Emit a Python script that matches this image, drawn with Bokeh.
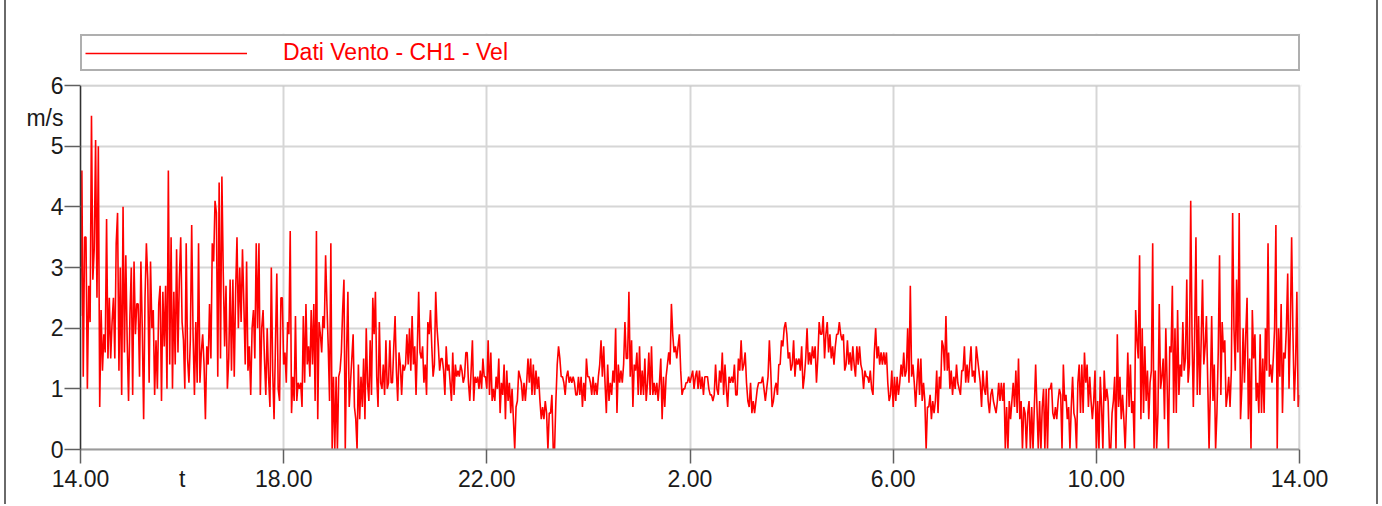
import numpy as np
from bokeh.plotting import figure
from bokeh.models import Range1d, FixedTicker, Legend, LegendItem, BoxAnnotation
from bokeh.embed import file_html
from bokeh.resources import INLINE

# Wind speed (m/s), grouped by 4-hour block starting at 14.00
v_14_18 = [2.2, 4.6, 1.2, 3.5, 3.5, 1.0, 2.7, 2.1, 5.5, 2.8, 3.3, 5.1, 2.5, 5.0, 0.7, 2.3, 1.3, 1.9, 1.6, 3.8,
           1.5, 2.5, 1.5, 2.1, 2.5, 1.5, 3.4, 3.9, 1.3, 3.0, 0.9, 4.0, 1.6, 3.2, 1.8, 0.8, 2.2, 3.0, 0.9, 3.1,
           1.9, 2.4, 2.4, 1.2, 3.1, 2.0, 0.5, 2.5, 3.4, 2.8, 1.1, 3.1, 2.0, 2.3, 0.9, 1.8, 1.0, 2.4, 2.7, 0.8,
           2.6, 1.7, 2.7, 1.0, 4.6, 1.4, 3.5, 1.0, 2.6, 1.4, 3.3, 1.6, 2.8, 3.5, 2.1, 1.8, 1.0, 3.4, 1.5, 1.1,
           1.8, 3.7, 1.9, 0.9, 2.1, 1.1, 3.4, 1.1, 1.6, 1.9, 1.4, 0.5, 1.7, 1.4, 2.4, 1.5, 3.4, 3.1, 4.1, 3.9,
           1.2, 4.4, 1.5, 4.5, 2.9, 1.7, 2.7, 1.0, 1.5, 2.8, 1.3, 2.8, 1.2, 2.6, 3.5, 2.0, 3.0, 2.1, 3.3, 2.4,
           1.4, 3.1, 1.3, 1.7, 0.9, 2.0, 2.3, 1.5, 3.4, 2.0, 3.4, 0.9, 2.0, 2.3, 1.5, 0.9, 2.0, 1.2, 0.7, 3.0,
           1.3, 0.5, 1.7, 2.9, 1.0, 0.8, 2.5, 2.5]
v_18_22 = [1.4, 1.6, 1.1, 2.1, 1.9, 3.6, 0.6, 1.2, 0.8, 2.2, 0.8, 1.1, 1.0, 1.1, 0.7, 2.2, 1.1, 2.4, 1.4, 1.7,
           1.2, 2.3, 1.4, 2.4, 0.8, 3.6, 0.5, 2.1, 1.9, 1.6, 2.2, 2.0, 3.2, 2.4, 1.7, 0.8, 3.4, 0.0, 1.2, 0.0,
           1.2, 0.0, 1.2, 1.3, 1.6, 2.3, 2.8, 0.0, 1.6, 2.6, 0.7, 1.1, 1.5, 1.9, 0.7, 0.5, 0.0, 1.4, 0.5, 1.2,
           0.7, 1.5, 0.5, 2.0, 1.1, 0.8, 1.8, 0.9, 2.5, 1.9, 2.6, 1.2, 0.7, 2.1, 1.1, 1.0, 1.4, 0.9, 1.8, 1.0,
           1.1, 1.8, 1.1, 1.1, 1.7, 2.2, 1.3, 0.8, 1.6, 1.4, 0.9, 1.4, 1.3, 1.4, 1.9, 1.4, 2.0, 1.3, 2.2, 1.4,
           1.7, 0.9, 1.7, 2.6, 1.6, 1.5, 1.7, 1.1, 1.4, 0.9, 2.1, 1.9, 2.3, 1.7, 1.2, 1.4, 2.6, 2.0, 1.7, 1.3,
           1.5, 1.5, 1.3, 0.9, 1.7, 1.3, 1.4, 1.1, 0.8, 1.6, 0.9, 1.4, 1.2, 1.3, 1.2, 1.4, 1.3, 1.1, 1.2, 1.6,
           1.6, 1.1, 0.8, 1.3, 1.8, 0.8, 1.2, 1.1, 1.2, 1.0, 1.3, 1.0, 1.5, 1.2, 1.2]
v_22_02 = [1.0, 1.8, 0.9, 1.6, 0.8, 1.0, 0.8, 1.2, 1.0, 1.5, 0.6, 1.1, 0.9, 1.4, 0.5, 1.3, 0.8, 1.1, 0.6, 1.0,
           0.5, 0.0, 0.7, 0.8, 1.3, 1.2, 1.1, 0.8, 1.1, 0.8, 1.1, 1.5, 1.1, 1.5, 0.9, 1.4, 0.9, 1.3, 1.0, 1.2,
           0.8, 0.5, 0.7, 0.5, 0.8, 0.6, 0.0, 0.6, 0.6, 0.9, 0.0, 0.0, 0.8, 1.4, 1.7, 1.5, 1.2, 1.2, 1.1, 0.9,
           1.2, 1.3, 1.1, 1.2, 1.1, 1.2, 1.1, 0.9, 0.9, 1.2, 0.9, 1.2, 0.7, 1.1, 0.8, 1.5, 1.2, 1.2, 1.1, 0.9,
           1.2, 0.9, 1.1, 0.9, 1.2, 1.4, 1.8, 1.2, 1.7, 1.1, 0.6, 1.4, 0.8, 1.1, 0.9, 1.3, 1.1, 2.0, 0.6, 1.4,
           1.1, 1.3, 1.1, 1.4, 2.1, 1.5, 1.5, 2.6, 1.2, 1.8, 0.7, 1.4, 1.3, 1.6, 0.9, 1.7, 0.9, 1.3, 0.9, 1.5,
           0.8, 1.1, 1.6, 0.9, 1.7, 0.9, 1.1, 0.9, 1.1, 0.8, 1.1, 1.5, 0.5, 1.2, 0.7, 1.2, 1.4, 1.6, 1.4, 2.4,
           1.9, 1.6, 1.7, 1.5, 1.7, 1.9, 1.3, 0.9, 1.0, 1.0, 1.1, 1.1, 1.2]
v_02_06 = [1.1, 1.2, 1.3, 1.0, 1.2, 1.3, 1.0, 1.3, 1.0, 1.2, 0.9, 1.2, 1.2, 1.2, 1.0, 0.9, 0.9, 0.8, 0.9, 1.4,
           1.0, 0.9, 1.3, 1.1, 1.6, 0.9, 1.4, 1.0, 0.7, 1.2, 1.1, 1.2, 1.1, 1.4, 0.9, 0.9, 1.5, 1.3, 1.8, 1.3,
           1.4, 1.6, 1.1, 0.8, 0.7, 1.1, 0.6, 0.8, 0.6, 0.8, 1.0, 1.1, 1.1, 1.1, 1.2, 1.0, 0.8, 1.0, 1.2, 1.8,
           1.3, 0.7, 0.8, 1.0, 1.1, 0.9, 1.4, 1.4, 1.8, 1.7, 2.0, 2.1, 1.9, 1.5, 1.6, 1.3, 1.4, 1.8, 1.2, 1.5,
           1.4, 1.5, 1.3, 1.7, 1.0, 1.2, 1.5, 2.0, 1.4, 1.6, 1.4, 1.7, 1.5, 1.7, 1.1, 1.5, 2.1, 1.9, 1.9, 2.2,
           1.5, 1.9, 2.1, 1.6, 1.9, 1.5, 1.7, 1.4, 1.7, 1.9, 1.9, 2.1, 1.9, 1.8, 1.9, 1.3, 1.4, 1.8, 1.4, 1.6,
           1.3, 1.7, 1.4, 1.2, 1.7, 1.4, 1.7, 1.4, 1.3, 1.0, 1.3, 1.2, 1.2, 1.1, 1.3, 1.0, 0.9, 1.6, 2.0, 1.5,
           1.7, 1.4, 1.6, 1.4, 1.6, 1.4, 1.6, 1.1, 0.8, 0.9, 1.3]
v_06_10 = [0.7, 1.2, 0.8, 1.2, 0.9, 1.1, 1.4, 1.2, 1.6, 1.2, 1.3, 2.0, 1.1, 2.7, 1.2, 1.4, 1.1, 0.7, 1.1, 1.5,
           0.9, 1.5, 0.8, 1.1, 0.8, 0.0, 0.7, 0.7, 0.9, 0.5, 0.8, 0.6, 0.8, 1.3, 0.6, 1.2, 1.0, 1.8, 1.7, 1.3,
           2.2, 1.3, 1.6, 1.0, 1.3, 0.9, 1.2, 1.0, 1.4, 1.1, 1.0, 0.9, 1.3, 1.3, 1.7, 1.1, 1.4, 1.1, 1.4, 1.7,
           1.2, 1.3, 1.1, 1.7, 1.5, 1.3, 1.1, 0.7, 1.3, 1.0, 0.9, 1.3, 0.8, 0.6, 0.9, 1.0, 0.8, 0.7, 0.6, 0.8,
           1.1, 0.8, 1.1, 0.8, 1.1, 0.0, 0.7, 0.0, 0.8, 0.5, 0.8, 1.1, 0.7, 1.3, 0.6, 1.5, 0.5, 0.8, 0.0, 0.7,
           0.6, 0.0, 0.6, 0.8, 0.0, 0.7, 0.0, 0.7, 1.4, 0.7, 0.0, 0.8, 0.0, 0.7, 1.0, 0.0, 1.0, 0.0, 1.0, 1.0,
           1.1, 0.6, 0.5, 0.7, 0.5, 0.8, 1.0, 0.9, 0.0, 1.4, 0.8, 0.9, 0.5, 0.7, 0.0, 0.7, 1.2, 0.6, 0.5, 0.0,
           1.1, 1.4, 0.6, 1.4, 0.6, 1.6, 1.1, 1.4, 0.7, 1.2, 0.8, 0.5, 0.8, 1.3]
v_10_14 = [0.0, 0.8, 0.0, 1.2, 0.7, 0.0, 1.3, 0.8, 1.0, 0.8, 0.0, 0.0, 0.6, 0.8, 1.2, 0.0, 1.9, 0.7, 1.2, 0.5,
           0.9, 0.5, 0.0, 0.7, 1.6, 0.7, 1.4, 0.6, 0.8, 0.0, 2.3, 1.8, 1.5, 3.2, 0.5, 2.0, 0.6, 1.7, 0.8, 1.3,
           0.5, 1.1, 1.3, 3.4, 0.0, 1.3, 0.0, 0.6, 2.4, 1.0, 1.2, 1.5, 0.5, 2.0, 1.1, 0.0, 1.7, 1.6, 2.7, 0.6,
           2.0, 0.6, 2.3, 0.9, 1.4, 1.2, 2.1, 1.3, 1.5, 2.8, 1.1, 1.4, 4.1, 1.9, 0.7, 1.9, 3.5, 0.9, 2.2, 0.9,
           1.8, 2.8, 1.4, 1.7, 2.2, 1.1, 0.0, 1.0, 2.2, 0.8, 1.4, 0.0, 0.6, 1.6, 3.2, 0.9, 2.1, 1.6, 1.8, 0.7,
           0.9, 1.2, 0.7, 1.3, 3.9, 2.0, 1.3, 2.8, 1.6, 3.9, 0.5, 1.0, 2.0, 1.1, 1.9, 2.5, 0.5, 1.5, 0.0, 2.3,
           1.5, 1.9, 0.8, 1.1, 0.6, 1.9, 0.6, 1.5, 0.6, 2.0, 1.3, 3.4, 1.2, 1.4, 1.1, 1.5, 2.0, 3.7, 0.0, 2.0,
           1.2, 2.4, 0.6, 1.6, 1.5, 2.0, 2.9, 1.0, 2.0, 3.5, 1.9, 0.8, 1.4, 2.6, 0.7, 0.9]

blocks = [v_14_18, v_18_22, v_22_02, v_02_06, v_06_10, v_10_14]
tick_hours = [0, 4, 8, 12, 16, 20, 24]
tick_labels = ["14.00", "18.00", "22.00", "2.00", "6.00", "10.00", "14.00"]
y_ticks = [0, 1, 2, 3, 4, 5, 6]
x_title, x_title_pos = "t", 2
y_title, y_title_pos = "m/s", 5.47
series_name = "Dati Vento - CH1 - Vel"

# hours since 14.00, samples spread evenly within each 4-hour block
t_all, v_all = [], []
for i, blk in enumerate(blocks):
    last = i == len(blocks) - 1
    t_all.extend(np.linspace(4 * i, 4 * i + 4, len(blk), endpoint=last).tolist())
    v_all.extend(blk)

FONT = "Liberation Sans"
TXT = "#1a1a1a"
X_MAX = tick_hours[-1]
Y_MAX = y_ticks[-1]
# pixel layout: plot box 80..1299 x 85..449, frame extended up (legend band) and 2px right
FRAME_TOP, AXIS_TOP, AXIS_BOTTOM = 33, 85, 449
AXIS_LEFT, AXIS_RIGHT, FRAME_RIGHT = 80, 1299, 1301
y_upper = Y_MAX * (AXIS_BOTTOM - FRAME_TOP) / (AXIS_BOTTOM - AXIS_TOP)
x_upper = X_MAX * (FRAME_RIGHT - AXIS_LEFT) / (AXIS_RIGHT - AXIS_LEFT)

p = figure(width=1374, height=504, output_backend="svg", toolbar_location=None,
           x_range=Range1d(0, x_upper), y_range=Range1d(0, y_upper),
           min_border_left=74, min_border_right=79, min_border_top=FRAME_TOP,
           min_border_bottom=504 - AXIS_BOTTOM)
p.styles = {"margin-left": "4px", "border-left": "2px solid #6a6a6a", "border-right": "2px solid #6a6a6a"}
p.background_fill_color = "white"
p.border_fill_color = "white"
p.outline_line_color = None

r = p.line(t_all, v_all, line_color="#ff0000", line_width=1.6)

# x axis: labelled positions as major ticks (no marks), tick marks as minor ticks
xa = p.xaxis[0]
xa.bounds = (0, X_MAX)
xa.ticker = FixedTicker(ticks=sorted(tick_hours + [x_title_pos]), minor_ticks=tick_hours)
ov = {h: s for h, s in zip(tick_hours, tick_labels)}
ov[x_title_pos] = x_title
xa.major_label_overrides = ov
xa.major_tick_line_color = None
xa.major_tick_out = 14
xa.major_tick_in = 0
xa.minor_tick_line_color = "#606060"
xa.minor_tick_line_width = 1.5
xa.minor_tick_out = 14
xa.minor_tick_in = 0
xa.axis_line_color = "#9a9a9a"
xa.axis_line_width = 2
xa.major_label_standoff = 2
xa.major_label_text_font = FONT
xa.major_label_text_font_size = "23px"
xa.major_label_text_color = TXT

ya = p.yaxis[0]
ya.bounds = (0, Y_MAX)
ya.ticker = FixedTicker(ticks=sorted(y_ticks + [y_title_pos]), minor_ticks=y_ticks)
yov = {t: str(t) for t in y_ticks}
yov[y_title_pos] = y_title
ya.major_label_overrides = yov
ya.major_tick_line_color = None
ya.major_tick_out = 16
ya.major_tick_in = 0
ya.minor_tick_line_color = "#606060"
ya.minor_tick_line_width = 1.5
ya.minor_tick_out = 16
ya.minor_tick_in = 0
ya.axis_line_color = "#202020"
ya.axis_line_width = 1.5
ya.major_label_standoff = 1
ya.major_label_text_font = FONT
ya.major_label_text_font_size = "23px"
ya.major_label_text_color = TXT

p.xgrid.ticker = FixedTicker(ticks=tick_hours)
p.ygrid.ticker = FixedTicker(ticks=y_ticks)
p.xgrid.grid_line_color = "#d6d6d6"
p.xgrid.grid_line_width = 2
p.ygrid.grid_line_color = "#d6d6d6"
p.ygrid.grid_line_width = 2

# blank band above y=6 and right of x=24, then the plot-area box
p.add_layout(BoxAnnotation(bottom=Y_MAX, fill_color="white", fill_alpha=1, line_alpha=0))
p.add_layout(BoxAnnotation(left=X_MAX, fill_color="white", fill_alpha=1, line_alpha=0))
p.add_layout(BoxAnnotation(left=0, right=X_MAX, bottom=0, top=Y_MAX, fill_alpha=0,
                           line_color="#9a9a9a", line_width=2))

legend = Legend(items=[LegendItem(label=series_name, renderers=[r])],
                location=(0, AXIS_BOTTOM - 71), orientation="vertical",
                padding=3, margin=0, glyph_width=162, glyph_height=18,
                label_standoff=36, label_width=1012,
                label_text_font=FONT, label_text_font_size="23px", label_text_color="#ff0000",
                border_line_color="#606060", border_line_width=2,
                background_fill_color="white", background_fill_alpha=1)
p.add_layout(legend, "center")

open("out.html", "w").write(file_html(p, INLINE))
